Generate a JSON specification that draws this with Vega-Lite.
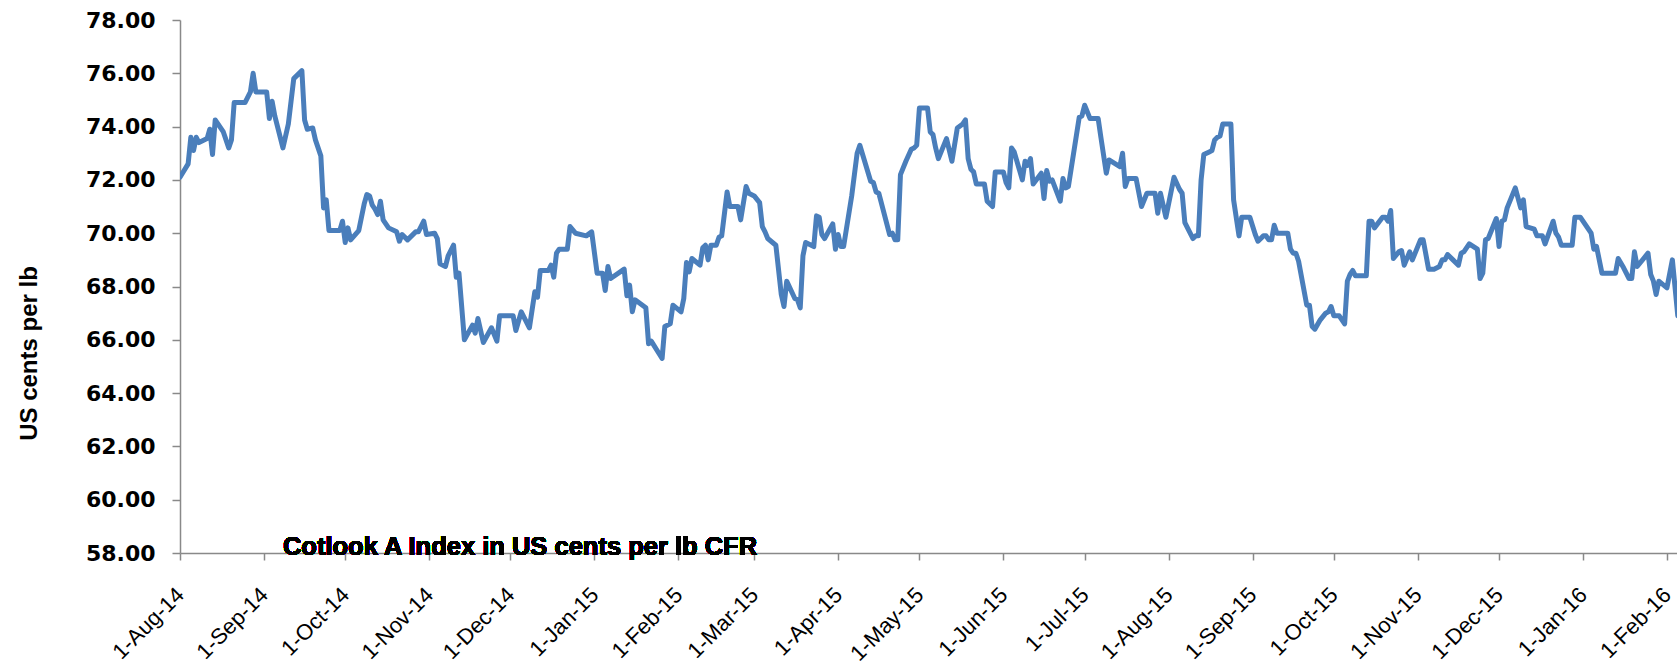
{
  "$schema": "https://vega.github.io/schema/vega-lite/v6.json",
  "autosize": {"type": "none"},
  "padding": {"left": 180, "top": 20, "right": 0, "bottom": 117},
  "width": 1497,
  "height": 533,
  "background": "white",
  "config": {"view": {"stroke": null}},
  "data": {"values": [
{"date":"2014-08-01","value":72.1},{"date":"2014-08-04","value":72.6},{"date":"2014-08-05","value":73.6},{"date":"2014-08-06","value":73.1},{"date":"2014-08-07","value":73.6},{"date":"2014-08-08","value":73.4},{"date":"2014-08-11","value":73.55},{"date":"2014-08-12","value":73.9},{"date":"2014-08-13","value":72.95},{"date":"2014-08-14","value":74.25},{"date":"2014-08-17","value":73.8},{"date":"2014-08-19","value":73.2},{"date":"2014-08-20","value":73.5},{"date":"2014-08-21","value":74.9},{"date":"2014-08-25","value":74.9},{"date":"2014-08-27","value":75.3},{"date":"2014-08-28","value":76.0},{"date":"2014-08-29","value":75.3},
{"date":"2014-09-02","value":75.3},{"date":"2014-09-03","value":74.3},{"date":"2014-09-04","value":74.95},{"date":"2014-09-05","value":74.4},{"date":"2014-09-08","value":73.2},{"date":"2014-09-10","value":74.1},{"date":"2014-09-12","value":75.8},{"date":"2014-09-15","value":76.1},{"date":"2014-09-16","value":74.25},{"date":"2014-09-17","value":73.9},{"date":"2014-09-19","value":73.95},{"date":"2014-09-20","value":73.5},{"date":"2014-09-22","value":72.9},{"date":"2014-09-23","value":70.95},{"date":"2014-09-24","value":71.25},{"date":"2014-09-25","value":70.1},{"date":"2014-09-29","value":70.1},{"date":"2014-09-30","value":70.45},
{"date":"2014-10-01","value":69.65},{"date":"2014-10-02","value":70.2},{"date":"2014-10-03","value":69.75},{"date":"2014-10-06","value":70.1},{"date":"2014-10-08","value":71.1},{"date":"2014-10-09","value":71.45},{"date":"2014-10-10","value":71.4},{"date":"2014-10-11","value":71.05},{"date":"2014-10-12","value":70.9},{"date":"2014-10-13","value":70.7},{"date":"2014-10-14","value":71.2},{"date":"2014-10-15","value":70.5},{"date":"2014-10-17","value":70.2},{"date":"2014-10-20","value":70.05},{"date":"2014-10-21","value":69.7},{"date":"2014-10-22","value":69.95},{"date":"2014-10-24","value":69.75},{"date":"2014-10-27","value":70.05},{"date":"2014-10-28","value":70.05},{"date":"2014-10-30","value":70.45},{"date":"2014-10-31","value":69.95},
{"date":"2014-11-03","value":70.0},{"date":"2014-11-04","value":69.8},{"date":"2014-11-05","value":68.85},{"date":"2014-11-07","value":68.75},{"date":"2014-11-08","value":69.15},{"date":"2014-11-10","value":69.55},{"date":"2014-11-11","value":68.35},{"date":"2014-11-12","value":68.5},{"date":"2014-11-14","value":66.0},{"date":"2014-11-17","value":66.55},{"date":"2014-11-18","value":66.25},{"date":"2014-11-19","value":66.8},{"date":"2014-11-21","value":65.9},{"date":"2014-11-24","value":66.45},{"date":"2014-11-26","value":65.95},{"date":"2014-11-27","value":66.9},
{"date":"2014-12-02","value":66.9},{"date":"2014-12-03","value":66.35},{"date":"2014-12-05","value":67.05},{"date":"2014-12-08","value":66.45},{"date":"2014-12-10","value":67.8},{"date":"2014-12-11","value":67.6},{"date":"2014-12-12","value":68.6},{"date":"2014-12-15","value":68.6},{"date":"2014-12-16","value":68.8},{"date":"2014-12-17","value":68.35},{"date":"2014-12-18","value":69.25},{"date":"2014-12-19","value":69.4},{"date":"2014-12-22","value":69.4},{"date":"2014-12-23","value":70.25},{"date":"2014-12-25","value":70.0},{"date":"2014-12-29","value":69.9},{"date":"2014-12-31","value":70.05},
{"date":"2015-01-02","value":68.5},{"date":"2015-01-04","value":68.5},{"date":"2015-01-05","value":67.85},{"date":"2015-01-06","value":68.75},{"date":"2015-01-07","value":68.3},{"date":"2015-01-12","value":68.65},{"date":"2015-01-13","value":67.65},{"date":"2015-01-14","value":68.05},{"date":"2015-01-15","value":67.05},{"date":"2015-01-16","value":67.5},{"date":"2015-01-20","value":67.2},{"date":"2015-01-21","value":65.85},{"date":"2015-01-22","value":65.95},{"date":"2015-01-26","value":65.3},{"date":"2015-01-27","value":66.5},{"date":"2015-01-29","value":66.6},{"date":"2015-01-30","value":67.3},
{"date":"2015-02-02","value":67.05},{"date":"2015-02-03","value":67.55},{"date":"2015-02-04","value":68.9},{"date":"2015-02-05","value":68.55},{"date":"2015-02-06","value":69.05},{"date":"2015-02-09","value":68.8},{"date":"2015-02-10","value":69.45},{"date":"2015-02-11","value":69.55},{"date":"2015-02-12","value":69.0},{"date":"2015-02-13","value":69.55},{"date":"2015-02-15","value":69.55},{"date":"2015-02-16","value":69.85},{"date":"2015-02-17","value":69.9},{"date":"2015-02-19","value":71.55},{"date":"2015-02-20","value":71.0},{"date":"2015-02-23","value":71.0},{"date":"2015-02-24","value":70.5},{"date":"2015-02-26","value":71.75},{"date":"2015-02-27","value":71.5},
{"date":"2015-03-01","value":71.4},{"date":"2015-03-03","value":71.15},{"date":"2015-03-04","value":70.25},{"date":"2015-03-05","value":70.05},{"date":"2015-03-06","value":69.8},{"date":"2015-03-09","value":69.55},{"date":"2015-03-11","value":67.7},{"date":"2015-03-12","value":67.25},{"date":"2015-03-13","value":68.2},{"date":"2015-03-16","value":67.55},{"date":"2015-03-17","value":67.5},{"date":"2015-03-18","value":67.2},{"date":"2015-03-19","value":69.15},{"date":"2015-03-20","value":69.65},{"date":"2015-03-23","value":69.5},{"date":"2015-03-24","value":70.65},{"date":"2015-03-25","value":70.6},{"date":"2015-03-26","value":69.95},{"date":"2015-03-27","value":69.8},{"date":"2015-03-30","value":70.35},{"date":"2015-03-31","value":69.4},
{"date":"2015-04-01","value":69.95},{"date":"2015-04-02","value":69.5},{"date":"2015-04-03","value":69.5},{"date":"2015-04-06","value":71.4},{"date":"2015-04-08","value":73.0},{"date":"2015-04-09","value":73.3},{"date":"2015-04-13","value":71.95},{"date":"2015-04-14","value":71.9},{"date":"2015-04-15","value":71.55},{"date":"2015-04-16","value":71.5},{"date":"2015-04-20","value":69.95},{"date":"2015-04-21","value":70.0},{"date":"2015-04-22","value":69.75},{"date":"2015-04-23","value":69.75},{"date":"2015-04-24","value":72.2},{"date":"2015-04-26","value":72.7},{"date":"2015-04-28","value":73.15},{"date":"2015-04-29","value":73.2},{"date":"2015-04-30","value":73.3},
{"date":"2015-05-01","value":74.7},{"date":"2015-05-04","value":74.7},{"date":"2015-05-05","value":73.8},{"date":"2015-05-06","value":73.7},{"date":"2015-05-07","value":73.2},{"date":"2015-05-08","value":72.8},{"date":"2015-05-11","value":73.55},{"date":"2015-05-13","value":72.7},{"date":"2015-05-15","value":73.95},{"date":"2015-05-17","value":74.1},{"date":"2015-05-18","value":74.25},{"date":"2015-05-19","value":72.8},{"date":"2015-05-20","value":72.4},{"date":"2015-05-21","value":72.3},{"date":"2015-05-22","value":71.85},{"date":"2015-05-25","value":71.85},{"date":"2015-05-26","value":71.2},{"date":"2015-05-28","value":71.0},{"date":"2015-05-29","value":72.3},
{"date":"2015-06-01","value":72.3},{"date":"2015-06-02","value":71.9},{"date":"2015-06-03","value":71.7},{"date":"2015-06-04","value":73.2},{"date":"2015-06-05","value":73.05},{"date":"2015-06-08","value":72.0},{"date":"2015-06-09","value":72.7},{"date":"2015-06-10","value":72.55},{"date":"2015-06-11","value":72.8},{"date":"2015-06-12","value":71.85},{"date":"2015-06-15","value":72.25},{"date":"2015-06-16","value":71.3},{"date":"2015-06-17","value":72.35},{"date":"2015-06-18","value":71.95},{"date":"2015-06-19","value":72.0},{"date":"2015-06-22","value":71.2},{"date":"2015-06-23","value":72.05},{"date":"2015-06-24","value":71.7},{"date":"2015-06-25","value":71.75},{"date":"2015-06-29","value":74.35},{"date":"2015-06-30","value":74.4},
{"date":"2015-07-01","value":74.8},{"date":"2015-07-03","value":74.3},{"date":"2015-07-06","value":74.3},{"date":"2015-07-07","value":73.6},{"date":"2015-07-09","value":72.25},{"date":"2015-07-10","value":72.75},{"date":"2015-07-14","value":72.5},{"date":"2015-07-15","value":73.0},{"date":"2015-07-16","value":71.75},{"date":"2015-07-17","value":72.05},{"date":"2015-07-20","value":72.05},{"date":"2015-07-22","value":71.0},{"date":"2015-07-24","value":71.5},{"date":"2015-07-27","value":71.5},{"date":"2015-07-28","value":70.75},{"date":"2015-07-29","value":71.5},{"date":"2015-07-31","value":70.6},
{"date":"2015-08-03","value":72.1},{"date":"2015-08-05","value":71.65},{"date":"2015-08-06","value":71.5},{"date":"2015-08-07","value":70.4},{"date":"2015-08-10","value":69.8},{"date":"2015-08-11","value":69.9},{"date":"2015-08-12","value":69.9},{"date":"2015-08-13","value":72.0},{"date":"2015-08-14","value":72.95},{"date":"2015-08-16","value":73.05},{"date":"2015-08-17","value":73.1},{"date":"2015-08-18","value":73.5},{"date":"2015-08-19","value":73.6},{"date":"2015-08-20","value":73.65},{"date":"2015-08-21","value":74.1},{"date":"2015-08-24","value":74.1},{"date":"2015-08-25","value":71.25},{"date":"2015-08-27","value":69.9},{"date":"2015-08-28","value":70.6},{"date":"2015-08-31","value":70.6},
{"date":"2015-09-02","value":69.95},{"date":"2015-09-03","value":69.7},{"date":"2015-09-05","value":69.9},{"date":"2015-09-06","value":69.9},{"date":"2015-09-07","value":69.75},{"date":"2015-09-08","value":69.75},{"date":"2015-09-09","value":70.3},{"date":"2015-09-10","value":70.0},{"date":"2015-09-14","value":70.0},{"date":"2015-09-15","value":69.4},{"date":"2015-09-16","value":69.25},{"date":"2015-09-17","value":69.25},{"date":"2015-09-18","value":68.95},{"date":"2015-09-21","value":67.3},{"date":"2015-09-22","value":67.3},{"date":"2015-09-23","value":66.5},{"date":"2015-09-24","value":66.4},{"date":"2015-09-26","value":66.75},{"date":"2015-09-28","value":67.0},{"date":"2015-09-29","value":67.05},{"date":"2015-09-30","value":67.25},
{"date":"2015-10-01","value":66.9},{"date":"2015-10-03","value":66.9},{"date":"2015-10-05","value":66.6},{"date":"2015-10-06","value":68.2},{"date":"2015-10-07","value":68.45},{"date":"2015-10-08","value":68.6},{"date":"2015-10-09","value":68.4},{"date":"2015-10-13","value":68.4},{"date":"2015-10-14","value":70.45},{"date":"2015-10-15","value":70.45},{"date":"2015-10-16","value":70.2},{"date":"2015-10-19","value":70.6},{"date":"2015-10-20","value":70.6},{"date":"2015-10-21","value":70.45},{"date":"2015-10-22","value":70.85},{"date":"2015-10-23","value":69.05},{"date":"2015-10-25","value":69.3},{"date":"2015-10-26","value":69.35},{"date":"2015-10-27","value":68.8},{"date":"2015-10-29","value":69.3},{"date":"2015-10-30","value":69.0},
{"date":"2015-11-02","value":69.75},{"date":"2015-11-03","value":69.75},{"date":"2015-11-05","value":68.65},{"date":"2015-11-07","value":68.65},{"date":"2015-11-09","value":68.75},{"date":"2015-11-10","value":69.0},{"date":"2015-11-11","value":69.0},{"date":"2015-11-12","value":69.2},{"date":"2015-11-14","value":69.0},{"date":"2015-11-16","value":68.8},{"date":"2015-11-17","value":69.25},{"date":"2015-11-18","value":69.3},{"date":"2015-11-20","value":69.6},{"date":"2015-11-23","value":69.4},{"date":"2015-11-24","value":68.3},{"date":"2015-11-25","value":68.5},{"date":"2015-11-26","value":69.75},{"date":"2015-11-27","value":69.8},{"date":"2015-11-30","value":70.55},
{"date":"2015-12-01","value":69.5},{"date":"2015-12-02","value":70.45},{"date":"2015-12-03","value":70.5},{"date":"2015-12-04","value":70.95},{"date":"2015-12-07","value":71.7},{"date":"2015-12-09","value":70.95},{"date":"2015-12-10","value":71.25},{"date":"2015-12-11","value":70.25},{"date":"2015-12-14","value":70.15},{"date":"2015-12-15","value":69.9},{"date":"2015-12-17","value":69.9},{"date":"2015-12-18","value":69.6},{"date":"2015-12-21","value":70.45},{"date":"2015-12-22","value":70.0},{"date":"2015-12-23","value":69.85},{"date":"2015-12-24","value":69.55},{"date":"2015-12-28","value":69.55},{"date":"2015-12-29","value":70.6},{"date":"2015-12-31","value":70.6},
{"date":"2016-01-04","value":70.0},{"date":"2016-01-05","value":69.4},{"date":"2016-01-06","value":69.5},{"date":"2016-01-08","value":68.5},{"date":"2016-01-13","value":68.5},{"date":"2016-01-14","value":69.05},{"date":"2016-01-16","value":68.7},{"date":"2016-01-18","value":68.3},{"date":"2016-01-19","value":68.3},{"date":"2016-01-20","value":69.3},{"date":"2016-01-21","value":68.75},{"date":"2016-01-25","value":69.25},{"date":"2016-01-26","value":68.45},{"date":"2016-01-27","value":68.2},{"date":"2016-01-28","value":67.7},{"date":"2016-01-29","value":68.2},
{"date":"2016-02-01","value":67.95},{"date":"2016-02-03","value":69.0},{"date":"2016-02-05","value":66.9}
  ]},
  "layer": [
    {
      "mark": {"type": "line", "color": "#4a7ebb", "strokeWidth": 5, "strokeJoin": "round", "strokeCap": "round", "clip": true},
      "encoding": {
        "x": {
          "field": "date", "type": "temporal",
          "scale": {"type": "utc", "domain": [{"year": 2014, "month": 8, "date": 1, "utc": true}, {"year": 2016, "month": 2, "date": 4, "hours": 17, "utc": true}], "nice": false},
          "axis": {
            "title": null,
            "format": "%-d-%b-%y",
            "tickCount": {"interval": "month", "step": 1},
            "labelAngle": -45, "labelAlign": "right", "labelBaseline": "middle",
            "labelFont": "Liberation Sans", "labelFontSize": 22, "labelColor": "#000000",
            "labelPadding": 31, "labelOverlap": false, "labelBound": false, "labelFlush": false,
            "tickSize": 7, "tickColor": "#898989", "tickWidth": 1.5,
            "domainColor": "#898989", "domainWidth": 1.5, "grid": false
          }
        },
        "y": {
          "field": "value", "type": "quantitative",
          "scale": {"domain": [58, 78], "nice": false, "zero": false},
          "axis": {
            "title": "US cents per lb",
            "titleFont": "Liberation Sans", "titleFontSize": 24, "titleFontWeight": "bold", "titleColor": "#000000",
            "titleAngle": -90, "titleAlign": "center", "titleBaseline": "middle",
            "titleX": -151, "titleY": 333,
            "values": [58, 60, 62, 64, 66, 68, 70, 72, 74, 76, 78],
            "format": ".2f",
            "labelFont": "DejaVu Sans", "labelFontSize": 22, "labelFontWeight": "bold", "labelColor": "#000000",
            "labelPadding": 17, "tickSize": 8, "tickColor": "#898989", "tickWidth": 1.5,
            "domainColor": "#898989", "domainWidth": 1.5, "grid": false
          }
        }
      }
    },
    {
      "mark": {"type": "text", "align": "left", "baseline": "alphabetic", "dy": 2, "font": "Liberation Sans", "fontWeight": "bold", "fontSize": 25.5, "color": "#000000"},
      "encoding": {
        "x": {"datum": {"year": 2014, "month": 9, "date": 8, "utc": true}, "type": "temporal"},
        "y": {"datum": 58, "type": "quantitative"},
        "text": {"value": "Cotlook A Index in US cents per lb CFR"}
      }
    }
  ]
}
